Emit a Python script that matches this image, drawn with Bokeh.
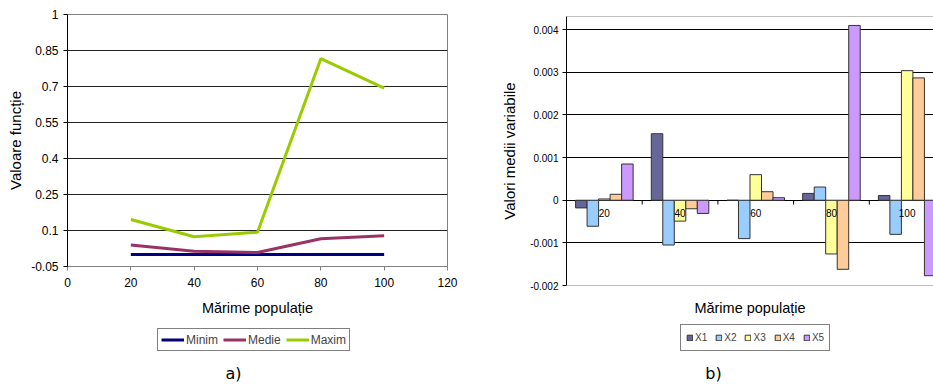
from bokeh.plotting import figure
from bokeh.layouts import row, column
from bokeh.models import Range1d, FixedTicker, Legend, LegendItem, Label, Span
from bokeh.embed import file_html
from bokeh.resources import INLINE
from bokeh.core.properties import value

# ---- data: chart a) ----
pop = [20, 40, 60, 80, 100]
minim = [0.0, 0.0, 0.0, 0.0, 0.0]
medie = [0.040, 0.014, 0.008, 0.066, 0.078]
maxim = [0.146, 0.074, 0.093, 0.816, 0.693]
left_yticks = [-0.05, 0.1, 0.25, 0.4, 0.55, 0.7, 0.85, 1.0]
left_xticks = [0, 20, 40, 60, 80, 100, 120]
line_names = ["Minim", "Medie", "Maxim"]

# ---- data: chart b) ----
categories = ["20", "40", "60", "80", "100"]
x1 = [-0.00018, 0.00156, 0.0, 0.00016, 0.00011]
x2 = [-0.00061, -0.00105, -0.00090, 0.00031, -0.00080]
x3 = [0.00003, -0.00049, 0.00060, -0.00126, 0.00304]
x4 = [0.00014, -0.00020, 0.00020, -0.00162, 0.00287]
x5 = [0.00085, -0.00031, 0.00006, 0.00410, -0.00177]
series_names = ["X1", "X2", "X3", "X4", "X5"]
right_yticks = [-0.002, -0.001, 0, 0.001, 0.002, 0.003, 0.004]

FONT = "Liberation Sans"
W1, W2 = 478, 455
HT, HB = 322, 63


def legend_strip(width, height):
    f = figure(width=width, height=height, x_range=Range1d(0, 1), y_range=Range1d(0, 1),
               output_backend="svg", toolbar_location=None, x_axis_type=None, y_axis_type=None,
               min_border=0, min_border_left=0, min_border_right=0, min_border_top=0,
               min_border_bottom=0)
    f.outline_line_color = None
    f.grid.visible = False
    f.background_fill_color = "white"
    f.border_fill_color = "white"
    return f


# ================= chart a) =================
p1 = figure(width=W1, height=HT, x_range=Range1d(0, 120), y_range=Range1d(-0.05, 1.0),
            output_backend="svg", toolbar_location=None,
            min_border_left=67, min_border_right=31, min_border_top=14, min_border_bottom=HT - 266)
p1.outline_line_color = "#808080"
p1.background_fill_color = "white"
p1.border_fill_color = "white"

p1.xaxis.ticker = FixedTicker(ticks=left_xticks)
p1.yaxis.ticker = FixedTicker(ticks=left_yticks)
p1.yaxis.major_label_overrides = {t: f"{t:g}" for t in left_yticks}
p1.xgrid.visible = False
p1.ygrid.ticker = FixedTicker(ticks=left_yticks)
p1.ygrid.grid_line_color = "#222222"

for ax in (p1.xaxis[0], p1.yaxis[0]):
    ax.major_tick_out = 4
    ax.major_tick_in = 0
    ax.minor_tick_line_color = None
    ax.major_label_text_font = FONT
    ax.major_label_text_font_size = "12px"
    ax.major_label_text_color = "black"
    ax.axis_label_text_font = FONT
    ax.axis_label_text_font_style = "normal"
    ax.axis_label_text_color = "black"
p1.xaxis.axis_line_color = "#808080"
p1.xaxis.major_tick_line_color = "#808080"
p1.xaxis.major_label_standoff = 7
p1.xaxis.axis_label = "Mărime populație"
p1.xaxis.axis_label_text_font_size = "14.5px"
p1.xaxis.axis_label_standoff = 10
p1.yaxis.axis_line_color = "black"
p1.yaxis.major_tick_line_color = "black"
p1.yaxis.major_label_standoff = 5
p1.yaxis.axis_label = "Valoare funcție"
p1.yaxis.axis_label_text_font_size = "15px"
p1.yaxis.axis_label_standoff = 4

line_colors = ["#000080", "#993366", "#99CC00"]
for vals, col in zip([minim, medie, maxim], line_colors):
    p1.line(pop, vals, line_color=col, line_width=3)

# legend strip a) (single-point proxies: a one-point line draws nothing)
s1 = legend_strip(W1, HB)
items1 = []
for name, col, vals in zip(line_names, line_colors, [minim, medie, maxim]):
    r = s1.line(x=[-1], y=[-1], line_color=col, line_width=3)
    items1.append(LegendItem(label=name, renderers=[r]))
s1.add_layout(Legend(items=items1, location=(90, 34), orientation="horizontal",
                     border_line_color="black", border_line_width=1,
                     background_fill_color="white", background_fill_alpha=1,
                     label_text_font=FONT, label_text_font_size="12px",
                     glyph_width=23, glyph_height=15, label_height=15,
                     label_standoff=2, spacing=5, padding=3, margin=0), "center")
s1.add_layout(Label(x=166, y=12, x_units="screen", y_units="screen", text="a)",
                    text_align="center", text_baseline="middle",
                    text_font="DejaVu Sans", text_font_size="16px", text_color="black"))

# ================= chart b) =================
n = len(categories)
y_bottom, y_top = -0.002, 0.00431
p2 = figure(width=W2, height=HT, x_range=Range1d(0, (W2 - 88) / 75.7), y_range=Range1d(y_bottom, y_top),
            output_backend="svg", toolbar_location=None,
            min_border_left=88, min_border_right=0, min_border_top=16, min_border_bottom=HT - 285)
p2.outline_line_color = None
p2.background_fill_color = "white"
p2.border_fill_color = "white"
p2.xgrid.visible = False
p2.ygrid.ticker = FixedTicker(ticks=[t for t in right_yticks if t != y_bottom])
p2.ygrid.grid_line_color = "black"
p2.add_layout(Span(location=y_top, dimension="width", line_color="#808080", line_width=1))
p2.add_layout(Span(location=y_bottom, dimension="width", line_color="#808080", line_width=1))

p2.yaxis.ticker = FixedTicker(ticks=right_yticks)
p2.yaxis.major_label_overrides = {t: f"{t:g}" for t in right_yticks}
p2.yaxis.major_tick_out = 4
p2.yaxis.major_tick_in = 0
p2.yaxis.minor_tick_line_color = None
p2.yaxis.axis_line_color = "black"
p2.yaxis.major_tick_line_color = "black"
p2.yaxis.major_label_text_font = FONT
p2.yaxis.major_label_text_font_size = "10px"
p2.yaxis.major_label_text_color = "black"
p2.yaxis.major_label_standoff = 4
p2.yaxis.axis_label = "Valori medii variabile"
p2.yaxis.axis_label_text_font = FONT
p2.yaxis.axis_label_text_font_size = "15px"
p2.yaxis.axis_label_text_font_style = "normal"
p2.yaxis.axis_label_text_color = "black"
p2.yaxis.axis_label_standoff = 9

p2.xaxis.ticker = FixedTicker(ticks=[])
p2.xaxis.axis_line_color = None
p2.xaxis.major_tick_line_color = None
p2.xaxis.minor_tick_line_color = None
p2.xaxis.major_tick_out = 0
p2.xaxis.major_label_standoff = 0
p2.xaxis.axis_label = "Mărime populație"
p2.xaxis.axis_label_text_font = FONT
p2.xaxis.axis_label_text_font_size = "14.5px"
p2.xaxis.axis_label_text_font_style = "normal"
p2.xaxis.axis_label_text_color = "black"
p2.xaxis.axis_label_standoff = 14

centers = [i + 0.5 for i in range(n)]
bar_w = 0.152
colors = ["#666699", "#99CCFF", "#FFFF99", "#FFCC99", "#CC99FF"]
for j, (vals, col) in enumerate(zip([x1, x2, x3, x4, x5], colors)):
    xs = [c + (j - 2) * bar_w for c in centers]
    p2.vbar(x=xs, width=bar_w, top=vals, bottom=0, fill_color=col,
            line_color="#333333", line_width=1)

# category boundary ticks on the zero line
bounds = [i for i in range(1, n)]
tick_len = 0.0001
p2.segment(x0=bounds, y0=[0] * len(bounds), x1=bounds, y1=[-tick_len] * len(bounds),
           line_color="black", line_width=1)
p2.text(x=centers, y=[0] * n, text=categories, text_align="center", text_baseline="top",
        y_offset=9, text_font=value(FONT), text_font_size="10px", text_color="black")

# legend strip b) (proxies lie outside the strip's range, so only the legend shows them)
s2 = legend_strip(W2, HB)
items2 = []
for name, col in zip(series_names, colors):
    r = s2.vbar(x=[-5], top=[-5], bottom=[-6], width=0.1, fill_color=col,
                line_color="#333333", line_width=1)
    items2.append(LegendItem(label=name, renderers=[r]))
s2.add_layout(Legend(items=items2, location=(114, 34), orientation="horizontal",
                     border_line_color="black", border_line_width=1,
                     background_fill_color="white", background_fill_alpha=1,
                     label_text_font=FONT, label_text_font_size="10px",
                     glyph_width=7, glyph_height=7, label_height=15, label_width=12,
                     label_standoff=2, spacing=8, padding=5, margin=0), "center")
s2.add_layout(Label(x=147, y=12, x_units="screen", y_units="screen", text="b)",
                    text_align="center", text_baseline="middle",
                    text_font="DejaVu Sans", text_font_size="16px", text_color="black"))

layout = row(column(p1, s1), column(p2, s2))
open("out.html", "w").write(file_html(layout, INLINE))
